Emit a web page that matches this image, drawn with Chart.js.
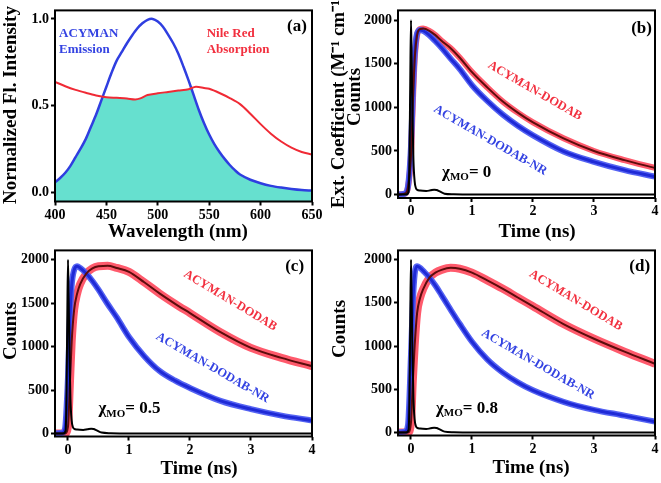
<!DOCTYPE html>
<html><head><meta charset="utf-8">
<script src="https://cdn.jsdelivr.net/npm/chart.js@4.4.1/dist/chart.umd.min.js"></script>
<style>
html,body{margin:0;padding:0;background:#fff;width:661px;height:483px;overflow:hidden}
.p{position:absolute}
canvas{display:block}
</style></head><body>
<div class="p" style="left:0;top:0"><canvas id="ca" width="330" height="250"></canvas></div>
<div class="p" style="left:330px;top:0"><canvas id="cb" width="331" height="250"></canvas></div>
<div class="p" style="left:0;top:240px"><canvas id="cc" width="330" height="243"></canvas></div>
<div class="p" style="left:330px;top:240px"><canvas id="cd" width="331" height="243"></canvas></div>
<script>
const SERIF = "'Liberation Serif','Times New Roman',serif";

// ---------- Panel (a): spectra ----------
const wlEmission = [400,405,410,415,420,425,430,435,440,445,450,455,460,465,470,475,480,485,490,495,500,505,510,515,520,525,530,535,540,545,550,555,560,565,570,575,580,590,600,610,620,630,640,650];
const emission   = [0.061,0.085,0.115,0.155,0.205,0.255,0.31,0.38,0.45,0.53,0.61,0.69,0.76,0.81,0.86,0.905,0.945,0.975,0.995,1.0,0.985,0.955,0.91,0.86,0.80,0.725,0.645,0.56,0.475,0.40,0.335,0.28,0.235,0.195,0.16,0.13,0.105,0.075,0.055,0.04,0.03,0.022,0.016,0.013];
const wlAbsorption = [400,410,420,430,440,450,460,470,478,483,490,500,510,520,530,537,545,550,560,570,580,590,600,610,620,630,640,650];
const absorption   = [0.638,0.613,0.592,0.575,0.56,0.55,0.546,0.542,0.537,0.543,0.562,0.572,0.58,0.588,0.596,0.61,0.603,0.598,0.574,0.545,0.51,0.455,0.395,0.34,0.295,0.26,0.235,0.22];
const wlOverlap = [400,405,410,415,420,425,430,435,440,445,446.5,450,460,470,478,483,490,500,510,520,530,532.5,535,540,545,550,555,560,565,570,575,580,590,600,610,620,630,640,650];
const overlap   = [0.061,0.085,0.115,0.155,0.205,0.255,0.31,0.38,0.45,0.53,0.551,0.55,0.546,0.542,0.537,0.543,0.562,0.572,0.58,0.588,0.596,0.60,0.56,0.475,0.40,0.335,0.28,0.235,0.195,0.16,0.13,0.105,0.075,0.055,0.04,0.03,0.022,0.016,0.013];
const ticksWavelength = [400,450,500,550,600,650];
const ticksIntensity = [0,0.5,1.0];

// ---------- Panels (b)-(d): decays ----------
const tGrid = [-0.213,-0.1,-0.05,0,0.03,0.06,0.1,0.15,0.2,0.3,0.4,0.5,0.65,0.8,1.0,1.25,1.5,1.75,2.0,2.5,3.0,3.5,4.0];
const dodabB   = [0,10,80,450,1050,1550,1830,1900,1905,1880,1830,1765,1680,1570,1405,1230,1070,940,828,645,500,395,305];
const dodabNrB = [0,10,90,550,1150,1600,1850,1890,1880,1830,1760,1685,1560,1440,1255,1075,920,790,680,495,375,280,205];
const dodabC   = [0,0,0,80,550,1050,1420,1610,1720,1840,1900,1925,1930,1905,1860,1740,1612,1495,1385,1165,985,870,775];
const dodabNrC = [0,5,50,650,1300,1700,1880,1925,1905,1840,1755,1655,1490,1335,1110,890,720,610,523,375,280,205,150];
const dodabD   = [0,0,0,120,600,1000,1380,1560,1660,1790,1850,1882,1905,1895,1850,1760,1665,1562,1460,1255,1085,935,795];
const dodabNrD = [0,10,80,900,1500,1830,1925,1905,1870,1795,1700,1590,1420,1255,1050,845,695,580,488,355,262,195,125];
const tIRF = [-0.213,-0.08,-0.04,-0.025,-0.012,0,0.012,0.025,0.04,0.06,0.08,0.1,0.15,0.25,0.32,0.38,0.42,0.47,0.55,0.7,1,2,3,4];
const irf  = [0,0,30,400,1300,2000,1500,900,400,150,75,55,45,40,48,55,52,35,10,3,0,0,0,0];
const ticksTime = [0,1,2,3,4];
const ticksCounts = [0,500,1000,1500,2000];

const RED_TXT = '#f2303f', BLUE_TXT = '#3443e2';

function pts(xs, ys){ return xs.map((x,i)=>({x:x, y:ys[i]})); }

const notesPlugin = {
  id:'notes',
  afterDraw(chart, args, opts){
    const ctx = chart.ctx, xs = chart.scales.x, ys = chart.scales.y, a = chart.chartArea;
    ctx.save(); ctx.strokeStyle='#000'; ctx.lineWidth=2;
    ctx.strokeRect(a.left, a.top, a.right-a.left, a.bottom-a.top); ctx.restore();
    (opts.items||[]).forEach(it=>{
      const x = it.data ? xs.getPixelForValue(it.x) : it.x;
      const y = it.data ? ys.getPixelForValue(it.y) : it.y;
      ctx.save(); ctx.translate(x,y); ctx.rotate((it.rot||0)*Math.PI/180);
      ctx.font = 'bold '+(it.size||13)+'px '+SERIF; ctx.fillStyle = it.color||'#000';
      ctx.textBaseline='middle';
      if (it.sub){
        ctx.textAlign='left';
        let cx = 0;
        ctx.fillText(it.text, 0, 0); cx += ctx.measureText(it.text).width;
        ctx.font = 'bold '+it.subSize+'px '+SERIF; ctx.fillText(it.sub, cx, it.subDy); cx += ctx.measureText(it.sub).width;
        ctx.font = 'bold '+it.size+'px '+SERIF; ctx.fillText(it.after, cx, 0);
      } else { ctx.textAlign = it.align||'center'; ctx.fillText(it.text, 0, 0); }
      ctx.restore();
    });
  }
};

function axis(o){
  return {
    type:'linear', min:o.min, max:o.max,
    afterFit(s){ if (o.h!==undefined) s.height=o.h; if (o.w!==undefined) s.width=o.w; },
    afterBuildTicks(s){ s.ticks = o.ticks.map(v=>({value:v})); },
    ticks:{color:'#000', font:{family:SERIF, size:14, weight:'bold'}, padding:o.pad, maxRotation:0, autoSkip:false, callback:o.fmt},
    grid:{display:true, drawOnChartArea:false, drawTicks:true, tickLength:4, tickColor:'#000', tickWidth:2},
    border:{display:false}
  };
}

function baseOpts(pad, scales, items){
  return {
    responsive:false, animation:false, events:[],
    layout:{padding:pad},
    plugins:{legend:{display:false}, title:{display:false}, tooltip:{enabled:false}, notes:{items:items}},
    scales:scales,
    elements:{point:{radius:0}}
  };
}

// ---- Chart (a)
new Chart(document.getElementById('ca'), {
  type:'line',
  data:{datasets:[
    {label:'Nile Red Absorption', data:pts(wlAbsorption, absorption), borderColor:'#f02a35', borderWidth:2, fill:false, tension:0.3},
    {label:'ACYMAN Emission', data:pts(wlEmission, emission), borderColor:'#2f3ee0', borderWidth:2.5, fill:false, tension:0.3},
    {label:'Overlap', data:pts(wlOverlap, overlap), borderWidth:0, borderColor:'rgba(0,0,0,0)', backgroundColor:'#66e0cf', fill:'start', tension:0.3}
  ]},
  options: baseOpts({top:9.5, right:18, left:0, bottom:0}, {
    x: axis({min:400, max:650, ticks:ticksWavelength, h:48.5, pad:1, fmt:v=>String(v)}),
    y: axis({min:-0.05, max:1.049, ticks:ticksIntensity, w:55, pad:2, fmt:v=>v.toFixed(1)})
  }, [
    {text:'ACYMAN', x:404, y:0.914, data:true, align:'left', color:BLUE_TXT, size:13},
    {text:'Emission', x:404, y:0.823, data:true, align:'left', color:BLUE_TXT, size:13},
    {text:'Nile Red', x:547.5, y:0.914, data:true, align:'left', color:RED_TXT, size:13},
    {text:'Absorption', x:547.5, y:0.823, data:true, align:'left', color:RED_TXT, size:13},
    {text:'(a)', x:645, y:0.954, data:true, align:'right', size:17},
    {text:'Wavelength (nm)', x:178, y:232, size:19},
    {text:'Normalized Fl. Intensity', x:11, y:105, rot:-90, size:19}
  ]),
  plugins:[notesPlugin]
});

function decayChart(id, red, blue, o){
  return new Chart(document.getElementById(id), {
    type:'line',
    data:{datasets:[
      {label:'IRF', data:pts(tIRF, irf), borderColor:'#000', borderWidth:2, fill:false, cubicInterpolationMode:'monotone'},
      {label:'ACYMAN-DODAB fit', data:pts(tGrid, red), borderColor:'#5c0c0c', borderWidth:2, fill:false, cubicInterpolationMode:'monotone'},
      {label:'ACYMAN-DODAB-NR fit', data:pts(tGrid, blue), borderColor:'#1f2ad6', borderWidth:3, fill:false, cubicInterpolationMode:'monotone'},
      {label:'ACYMAN-DODAB-NR', data:pts(tGrid, blue), borderColor:'rgba(75,90,242,0.95)', borderWidth:o.bw, fill:false, cubicInterpolationMode:'monotone'},
      {label:'ACYMAN-DODAB', data:pts(tGrid, red), borderColor:'rgba(255,72,92,0.9)', borderWidth:o.rw, fill:false, cubicInterpolationMode:'monotone'}
    ]},
    options: baseOpts(o.pad, {
      x: axis({min:-0.213, max:4, ticks:ticksTime, h:o.xh, pad:1, fmt:v=>String(v)}),
      y: axis({min:o.ymin, max:o.ymax, ticks:ticksCounts, w:o.yw, pad:2, fmt:v=>String(v)})
    }, o.items),
    plugins:[notesPlugin]
  });
}

function chi(x, y, val){ return {text:'\u03c7', sub:'MO', after:'= '+val, x:x, y:y, data:true, size:17, subSize:11, subDy:5}; }

decayChart('cb', dodabB, dodabNrB, {
  pad:{top:9, right:6, left:0, bottom:0}, xh:52, yw:68, ymin:-40, ymax:2114, rw:6, bw:6,
  items:[
    {text:'ACYMAN-DODAB', x:2.03, y:1190, data:true, rot:30, color:RED_TXT, size:12.5},
    {text:'ACYMAN-DODAB-NR', x:1.30, y:621, data:true, rot:30, color:BLUE_TXT, size:12.5},
    chi(0.51, 256, '0'),
    {text:'(b)', x:3.95, y:1910, data:true, align:'right', size:17},
    {text:'Time (ns)', x:207, y:232, size:19},
    {text:'Ext. Coefficient (M\u207B\u00B9 cm\u207B\u00B9)', x:9, y:101, rot:-90, size:19},
    {text:'Counts', x:25, y:97, rot:-90, size:19}
  ]
});

decayChart('cc', dodabC, dodabNrC, {
  pad:{top:5, right:18, left:0, bottom:0}, xh:46.5, yw:55, ymin:-35, ymax:2107, rw:8, bw:6,
  items:[
    {text:'ACYMAN-DODAB', x:2.66, y:1529, data:true, rot:31, color:RED_TXT, size:12.5},
    {text:'ACYMAN-DODAB-NR', x:2.37, y:755, data:true, rot:30, color:BLUE_TXT, size:12.5},
    chi(0.50, 281, '0.5'),
    {text:'(c)', x:3.87, y:1922, data:true, align:'right', size:17},
    {text:'Time (ns)', x:199, y:229, size:19},
    {text:'Counts', x:11, y:91, rot:-90, size:19}
  ]
});

decayChart('cd', dodabD, dodabNrD, {
  pad:{top:5, right:6, left:0, bottom:0}, xh:47.5, yw:68, ymin:-35, ymax:2107, rw:8, bw:6,
  items:[
    {text:'ACYMAN-DODAB', x:2.70, y:1529, data:true, rot:31, color:RED_TXT, size:12.5},
    {text:'ACYMAN-DODAB-NR', x:2.08, y:789, data:true, rot:30, color:BLUE_TXT, size:12.5},
    chi(0.41, 281, '0.8'),
    {text:'(d)', x:3.92, y:1922, data:true, align:'right', size:17},
    {text:'Time (ns)', x:201, y:228, size:19},
    {text:'Counts', x:10, y:89, rot:-90, size:19}
  ]
});
</script>
</body></html>
